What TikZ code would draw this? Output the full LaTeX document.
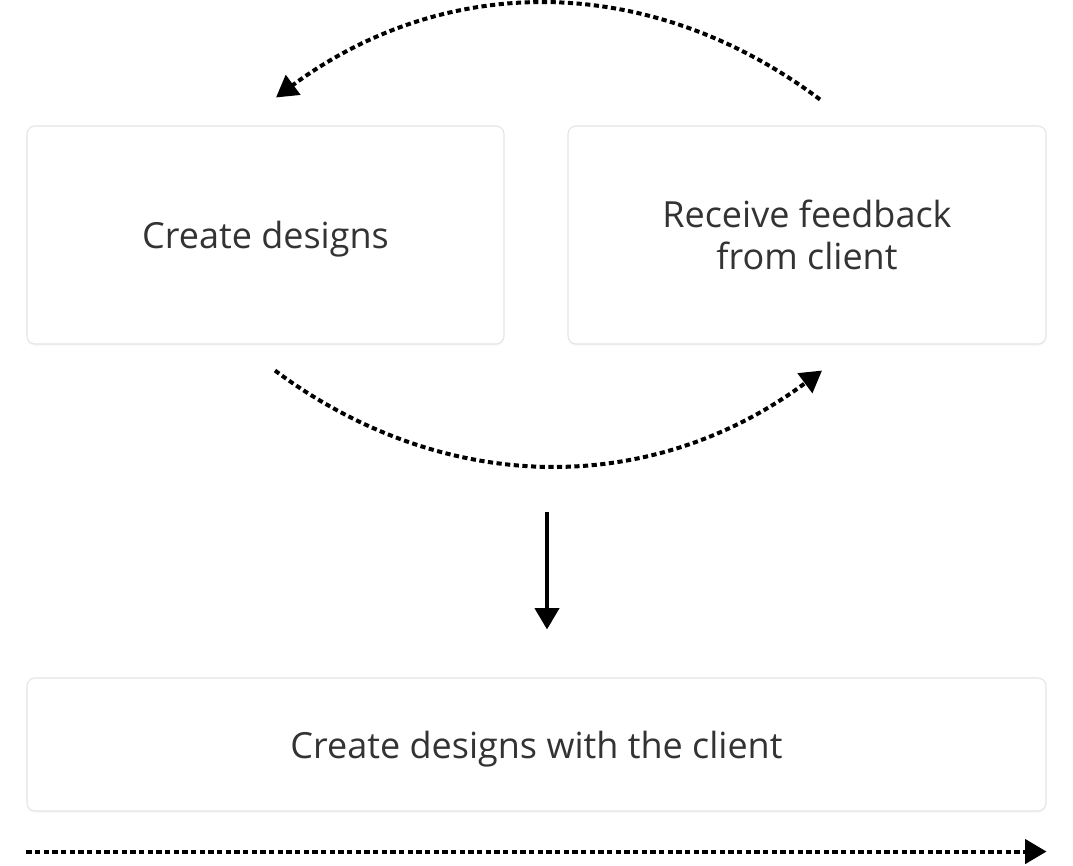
\documentclass[tikz,border=0pt]{standalone}
\usepackage{fontspec}
\setmainfont{Open Sans}
\usetikzlibrary{arrows.meta,shadows}
\definecolor{txtgray}{HTML}{333333}
\definecolor{edgegray}{HTML}{E4E4E4}

\begin{document}
\begin{tikzpicture}[
  x=0.75pt, y=-0.75pt,
  card/.style={draw=edgegray, fill=white, rounded corners=6pt, line width=0.8pt,
               drop shadow={shadow xshift=0pt, shadow yshift=-1.5pt, opacity=0.06},
               align=center, text=txtgray, text depth=0pt,
               font=\fontsize{27}{31.5}\selectfont},
  dotarr/.style={-{Triangle[length=16pt, width=18pt]}, line width=3pt,
                 dash pattern=on 3.9pt off 2.6pt},
  solarr/.style={-{Triangle[length=16pt, width=18pt]}, line width=3pt},
]
\useasboundingbox (0,0) rectangle (1073,865);
\node[card, minimum width=477*0.75pt, minimum height=218*0.75pt] (create) at (265.5,235)
  {Create designs};
\node[card, minimum width=478*0.75pt, minimum height=218*0.75pt] (feedback) at (807,235)
  {Receive feedback\\from client};
\node[card, minimum width=1019*0.75pt, minimum height=133*0.75pt] (together) at (536.5,744.5)
  {Create designs with the client};
% loop between the two cards
\coordinate (topstart) at ([xshift=13*0.75pt, yshift=26*0.75pt]feedback.north);
\coordinate (topend) at ([xshift=10.5*0.75pt, yshift=28*0.75pt]create.north);
\draw[dotarr] (topstart) .. controls (650,-28) and (446,-28) .. (topend);
\coordinate (botstart) at ([xshift=9.5*0.75pt, yshift=-26*0.75pt]create.south);
\coordinate (botend) at ([xshift=15*0.75pt, yshift=-26*0.75pt]feedback.south);
\draw[dotarr] (botstart) .. controls (445,497) and (652,497) .. (botend);
% down to the joint step
\coordinate (downstart) at (547,512);
\draw[solarr] (downstart) -- ([yshift=48*0.75pt]together.north -| downstart);
% timeline
\coordinate (linestart) at ([yshift=-40*0.75pt]together.south west);
\draw[dotarr] (linestart) -- ([yshift=-40*0.75pt]together.south east);
\end{tikzpicture}
\end{document}
